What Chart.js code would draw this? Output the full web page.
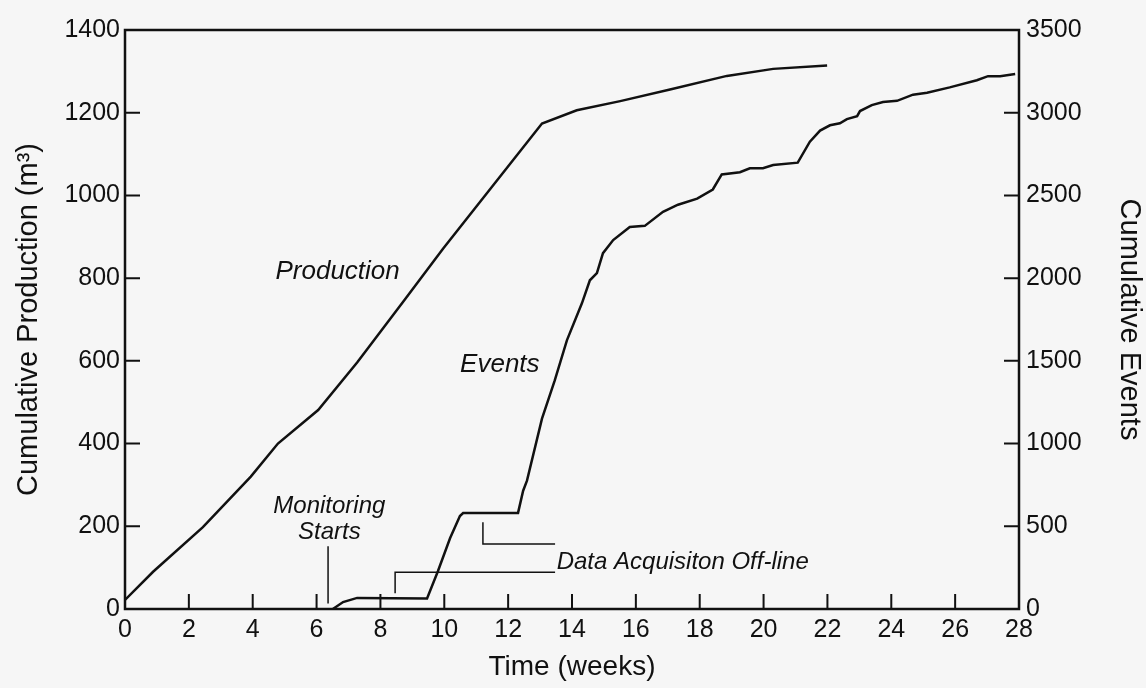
<!DOCTYPE html>
<html lang="en">
<head>
  <meta charset="UTF-8" />
  <title>Cumulative Production and Events</title>
  <script src="https://cdn.jsdelivr.net/npm/chart.js"></script>
  <style>
    html, body { margin: 0; padding: 0; background: #f6f6f6; }
  </style>
</head>
<body>
  <canvas id="chart" width="1146" height="688"></canvas>

  <script>
    // production curve (left axis, m³)
    const productionWeeks = [0, 0.88, 2.44, 3.94, 4.79, 6.05, 7.27, 8.70, 9.96, 13.06, 14.15, 15.51, 17.07, 18.85, 20.30, 21.99];
    const productionM3 = [22, 90, 198, 320, 400, 481, 596, 742, 871, 1174, 1206, 1228, 1256, 1289, 1306, 1314];

    // cumulative events (right axis)
    const eventWeeks = [6.51, 6.83, 7.27, 9.46, 9.80, 10.18, 10.49, 10.59, 12.31, 12.47, 12.59, 13.06, 13.46, 13.84,
      14.31, 14.56, 14.78, 14.97, 15.29, 15.81, 16.28, 16.85, 17.32, 17.92, 18.41, 18.69, 19.26, 19.57, 19.98,
      20.30, 21.07, 21.45, 21.77, 22.08, 22.39, 22.61, 22.93, 23.02, 23.39, 23.74, 24.18, 24.68, 25.12, 25.83,
      26.68, 27.03, 27.41, 27.88];
    const eventCounts = [0, 42, 67, 64, 228, 428, 562, 580, 581, 715, 776, 1151, 1382, 1624,
      1848, 1987, 2030, 2151, 2230, 2309, 2316, 2401, 2444, 2481, 2536, 2627, 2640, 2664, 2665,
      2684, 2698, 2825, 2892, 2924, 2936, 2961, 2979, 3010, 3046, 3065, 3072, 3109, 3121, 3153,
      3196, 3221, 3221, 3234];

    const weekTicks = [0, 2, 4, 6, 8, 10, 12, 14, 16, 18, 20, 22, 24, 26, 28];
    const productionTicks = [0, 200, 400, 600, 800, 1000, 1200, 1400];
    const eventTicks = [0, 500, 1000, 1500, 2000, 2500, 3000, 3500];

    // callouts, placed in data units (weeks, m³ on the left axis)
    const notes = [
      { text: 'Production', x: 6.66, y: 797, align: 'center', size: 26 },
      { text: 'Events', x: 11.74, y: 574, align: 'center', size: 26 },
      { text: 'Monitoring', x: 6.40, y: 231, align: 'center', size: 24 },
      { text: 'Starts', x: 6.40, y: 170, align: 'center', size: 24 },
      { text: 'Data Acquisiton Off-line', x: 13.52, y: 96, align: 'left', size: 24 }
    ];
    const leaders = [
      [[6.36, 152], [6.36, 13]],
      [[11.21, 210], [11.21, 157], [13.47, 157]],
      [[8.46, 38], [8.46, 89], [13.47, 89]]
    ];

    const FONT = '"Liberation Sans", Arial, Helvetica, sans-serif';
    const INK = '#111';

    const pairs = (xs, ys) => xs.map((x, i) => ({ x: x, y: ys[i] }));
    const fixedTicks = list => scale => { scale.ticks = list.map(v => ({ value: v })); };
    const plain = v => String(v);

    // box round the plot plus inward tick marks
    const framePlugin = {
      id: 'frame',
      afterDraw(chart) {
        const { ctx, chartArea: a, scales } = chart;
        ctx.save();
        ctx.strokeStyle = INK;
        ctx.lineWidth = 2.5;
        ctx.strokeRect(a.left, a.top, a.right - a.left, a.bottom - a.top);

        ctx.lineWidth = 2;
        const len = 15;
        ctx.beginPath();
        scales.x.ticks.forEach((t, i, arr) => {
          if (i === 0 || i === arr.length - 1) return;
          const px = scales.x.getPixelForValue(t.value);
          ctx.moveTo(px, a.bottom);
          ctx.lineTo(px, a.bottom - len);
        });
        scales.y.ticks.forEach((t, i, arr) => {
          if (i === 0 || i === arr.length - 1) return;
          const py = scales.y.getPixelForValue(t.value);
          ctx.moveTo(a.left, py);
          ctx.lineTo(a.left + len, py);
        });
        scales.y2.ticks.forEach((t, i, arr) => {
          if (i === 0 || i === arr.length - 1) return;
          const py = scales.y2.getPixelForValue(t.value);
          ctx.moveTo(a.right, py);
          ctx.lineTo(a.right - len, py);
        });
        ctx.stroke();
        ctx.restore();
      }
    };

    const notesPlugin = {
      id: 'notes',
      afterDraw(chart) {
        const { ctx, scales: { x, y } } = chart;
        ctx.save();
        ctx.strokeStyle = INK;
        ctx.lineWidth = 1.5;
        leaders.forEach(path => {
          ctx.beginPath();
          path.forEach((p, i) => {
            const px = x.getPixelForValue(p[0]), py = y.getPixelForValue(p[1]);
            if (i === 0) ctx.moveTo(px, py); else ctx.lineTo(px, py);
          });
          ctx.stroke();
        });
        ctx.fillStyle = INK;
        ctx.textBaseline = 'alphabetic';
        notes.forEach(n => {
          ctx.font = `italic ${n.size}px ${FONT}`;
          ctx.textAlign = n.align;
          ctx.fillText(n.text, x.getPixelForValue(n.x), y.getPixelForValue(n.y));
        });
        ctx.restore();
      }
    };

    const tickFont = { family: FONT, size: 25 };
    const titleFont = { family: FONT, size: 29 };

    new Chart(document.getElementById('chart'), {
      type: 'line',
      data: {
        datasets: [
          {
            label: 'Production',
            data: pairs(productionWeeks, productionM3),
            yAxisID: 'y',
            borderColor: INK,
            borderWidth: 2.5,
            pointRadius: 0,
            tension: 0
          },
          {
            label: 'Events',
            data: pairs(eventWeeks, eventCounts),
            yAxisID: 'y2',
            borderColor: INK,
            borderWidth: 2.5,
            pointRadius: 0,
            tension: 0
          }
        ]
      },
      options: {
        responsive: false,
        animation: false,
        layout: { padding: { top: 30 } },
        plugins: {
          legend: { display: false },
          tooltip: { enabled: false }
        },
        scales: {
          x: {
            type: 'linear',
            min: 0,
            max: 28,
            afterBuildTicks: fixedTicks(weekTicks),
            afterFit: s => { s.height = 79; },
            grid: { display: false, drawTicks: false },
            border: { display: false },
            ticks: { font: tickFont, color: INK, padding: 6, maxRotation: 0, autoSkip: false, callback: plain },
            title: { display: true, text: 'Time (weeks)', font: { family: FONT, size: 28 }, color: INK, padding: { top: 0, bottom: 4 } }
          },
          y: {
            position: 'left',
            min: 0,
            max: 1400,
            afterBuildTicks: fixedTicks(productionTicks),
            afterFit: s => { s.width = 125; },
            grid: { display: false, drawTicks: false },
            border: { display: false },
            ticks: { font: tickFont, color: INK, padding: 5, callback: plain },
            title: { display: true, text: 'Cumulative Production (m³)', font: titleFont, color: INK, padding: { top: 12, bottom: 0 } }
          },
          y2: {
            position: 'right',
            min: 0,
            max: 3500,
            afterBuildTicks: fixedTicks(eventTicks),
            afterFit: s => { s.width = 127; },
            grid: { display: false, drawTicks: false },
            border: { display: false },
            ticks: { font: tickFont, color: INK, padding: 7, callback: plain },
            title: { display: true, text: 'Cumulative Events', font: titleFont, color: INK, padding: { top: 0, bottom: 0 } }
          }
        }
      },
      plugins: [framePlugin, notesPlugin]
    });
  </script>
</body>
</html>
